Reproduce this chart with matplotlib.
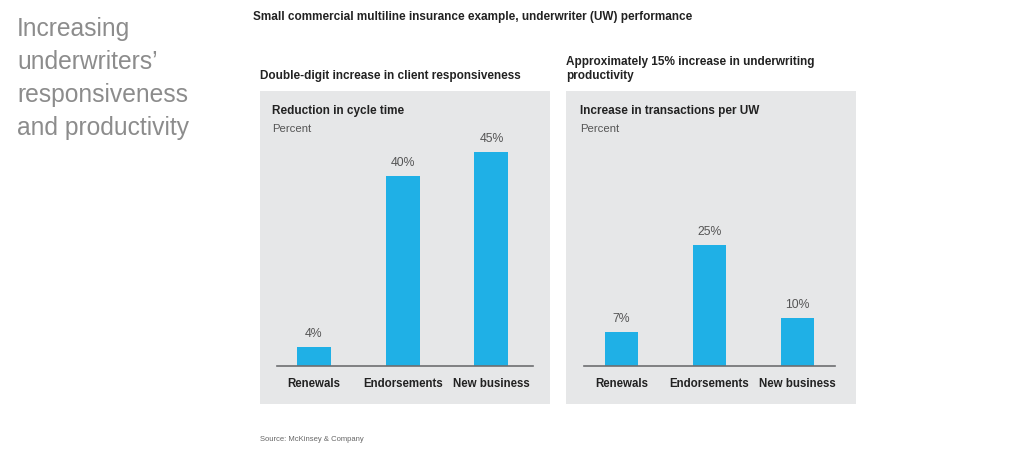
import matplotlib.pyplot as plt
from matplotlib.patches import Rectangle

# data
categories = ["Renewals", "Endorsements", "New business"]
cycle_time_cut = [4, 40, 45]
transactions_up = [7, 25, 10]

W, H = 1024, 460
BAR = "#1fb0e6"
BOX = "#e6e7e8"
DARK = "#222222"
FONT = ["Liberation Sans Narrow", "Liberation Sans", "DejaVu Sans"]

plt.rcParams["font.family"] = FONT

fig = plt.figure(figsize=(W / 100, H / 100), dpi=100)


def fx(px):
    return px / W


def fy(py):
    return 1 - py / H


def box(x0, y0, x1, y1):
    fig.patches.append(Rectangle((fx(x0), fy(y1)), fx(x1 - x0), (y1 - y0) / H,
                                 transform=fig.transFigure, facecolor=BOX,
                                 edgecolor="none", zorder=-5))


def panel(rect_px, values, ymax, xlim, width):
    x0, y_top, x1, y_base = rect_px
    ax = fig.add_axes([fx(x0), fy(y_base), fx(x1 - x0), (y_base - y_top) / H])
    ax.patch.set_visible(False)
    pos = list(range(len(values)))
    ax.bar(pos, values, width=width, color=BAR, zorder=2)
    for p, v in zip(pos, values):
        ax.text(p, v + ymax * 0.03, f"{v}%", ha="center", va="bottom",
                fontsize=8.8, color="#555555")
    ax.set_ylim(0, ymax)
    ax.set_xlim(*xlim)
    for s in ["top", "right", "left"]:
        ax.spines[s].set_visible(False)
    ax.spines["bottom"].set_color("#6d6e71")
    ax.spines["bottom"].set_linewidth(1.2)
    ax.set_yticks([])
    ax.set_xticks(pos)
    ax.set_xticklabels(categories, fontsize=8.3, fontweight="bold", color=DARK)
    ax.tick_params(axis="x", length=0, pad=8)
    return ax


# side headline
fig.text(fx(17), fy(17), "Increasing\nunderwriters\u2019\nresponsiveness\nand productivity",
         ha="left", va="top", fontsize=17.7, color="#8c8c8c",
         family=["Liberation Sans", "DejaVu Sans"], linespacing=1.47)

fig.text(fx(253), fy(17), "Small commercial multiline insurance example, underwriter (UW) performance",
         ha="left", va="center", fontsize=8.5, fontweight="bold", color=DARK)

# left panel
box(260, 92, 550, 405)
fig.text(fx(260), fy(76), "Double-digit increase in client responsiveness",
         ha="left", va="center", fontsize=8.5, fontweight="bold", color=DARK)
fig.text(fx(272), fy(111), "Reduction in cycle time", ha="left", va="center",
         fontsize=8.5, fontweight="bold", color=DARK)
fig.text(fx(272), fy(129), "Percent", ha="left", va="center", fontsize=8.2, color="#555555")
panel((277, 100, 533, 367), cycle_time_cut, 267 / 4.75, (-0.417, 2.468), 0.383)

# right panel
box(566, 92, 856, 405)
fig.text(fx(566), fy(69), "Approximately 15% increase in underwriting\nproductivity",
         ha="left", va="center", fontsize=8.5, fontweight="bold", color=DARK, linespacing=1.2)
fig.text(fx(580), fy(111), "Increase in transactions per UW", ha="left", va="center",
         fontsize=8.5, fontweight="bold", color=DARK)
fig.text(fx(580), fy(129), "Percent", ha="left", va="center", fontsize=8.2, color="#555555")
panel((584, 100, 835, 367), transactions_up, 267 / 4.84, (-0.426, 2.426), 0.375)

fig.text(fx(260), fy(440), "Source: McKinsey & Company", ha="left", va="center",
         fontsize=5.5, color="#666666")

fig.savefig("out.png", dpi=100, facecolor="white")
